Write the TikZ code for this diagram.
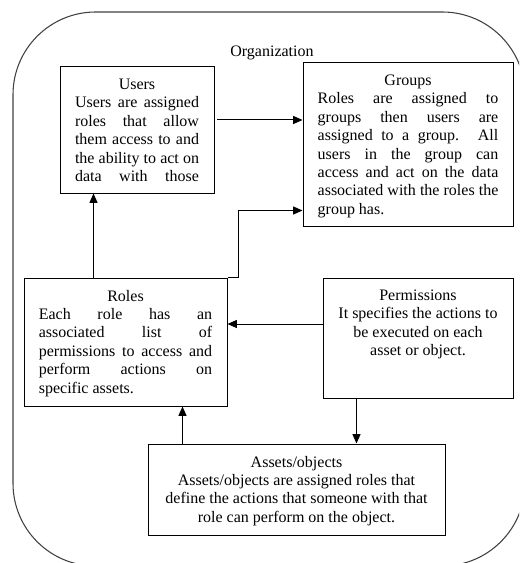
\documentclass[tikz,border=0pt]{standalone}
\usepackage{fontspec}
\setmainfont{Liberation Serif}
\usetikzlibrary{arrows.meta}
\newcommand{\boxtitle}[1]{\noindent\hspace*{\fill}#1\hspace*{\fill}\par\noindent}
\tikzset{
  box/.style={draw, line width=0.75pt, inner sep=0pt},
  boxtext/.style={anchor=north, inner sep=0pt, yshift=-9pt,
    font=\fontsize{12}{13.8}\selectfont},
}
\begin{document}
\begin{tikzpicture}[>={Triangle[length=7pt,width=6pt]},x=0.75pt,y=-0.75pt,line width=0.75pt]
	\useasboundingbox (0,0) rectangle (519,563);
	\begin{scope}
		\clip (0,0) rectangle (519,563);
		\draw[line width=0.8pt, black!75, rounded corners=62pt] (13,12) rectangle (525,566);
	\end{scope}
	\node[font=\fontsize{12}{13.8}\selectfont] (org) at (272,53) {Organization};
	% boxes
	\node[box, minimum width=115.5pt, minimum height=94.5pt] (users) at (137,130) {};
	\node[box, minimum width=157.5pt, minimum height=122.25pt] (groups) at (408,144.5) {};
	\node[box, minimum width=152.25pt, minimum height=96pt] (roles) at (125.5,342) {};
	\node[box, minimum width=142.5pt, minimum height=90pt] (perms) at (418,338) {};
	\node[box, minimum width=222.75pt, minimum height=68.25pt] (assets) at (296.5,489.5) {};
	% texts
	\node[boxtext, text width=93pt, align=justify] (userstext) at (users.north)
		{\boxtitle{Users}Users are assigned\linebreak roles that allow\linebreak
		them access to and\linebreak the ability to act on\linebreak data \hfill with \hfill those};
	\node[boxtext, text width=135.5pt, align=justify] (groupstext) at (groups.north)
		{\boxtitle{Groups}Roles are assigned to\linebreak groups then users are\linebreak
		assigned to a group. All\linebreak users in the group can\linebreak
		access and act on the data\linebreak associated with the roles the\linebreak group has.};
	\node[boxtext, text width=130pt, align=justify] (rolestext) at (roles.north)
		{\boxtitle{Roles}Each role has an\linebreak associated list of\linebreak
		permissions to access and\linebreak perform actions on\linebreak specific assets.};
	\node[boxtext, align=center] (permstext) at (perms.north)
		{Permissions\\It specifies the actions to\\be executed on each\\asset or object.};
	\node[boxtext, align=center] (assetstext) at (assets.north)
		{Assets/objects\\Assets/objects are assigned roles that\\
		define the actions that someone with that\\role can perform on the object.};
	% connectors
	\coordinate (ug) at ([xshift=2pt,yshift=7.5pt]users.east);
	\draw[->] (ug) -- (ug -| groups.west);
	\coordinate (ru) at ([xshift=52.5pt]roles.north west);
	\draw[->] (ru) -- (ru |- users.south);
	\coordinate (rg) at ([yshift=12pt]groups.south west);
	\draw[->] (roles.north east) -- ++(11,0) |- (rg);
	\coordinate (pr) at ([yshift=10.5pt]perms.west);
	\draw[->] (pr) -- (pr -| roles.east);
	\coordinate (pa) at ([xshift=25.5pt]perms.south west);
	\draw[->] (pa) -- (pa |- assets.north);
	\coordinate (ar) at ([xshift=26.25pt]assets.north west);
	\draw[->] (ar) -- (ar |- roles.south);
\end{tikzpicture}
\end{document}
